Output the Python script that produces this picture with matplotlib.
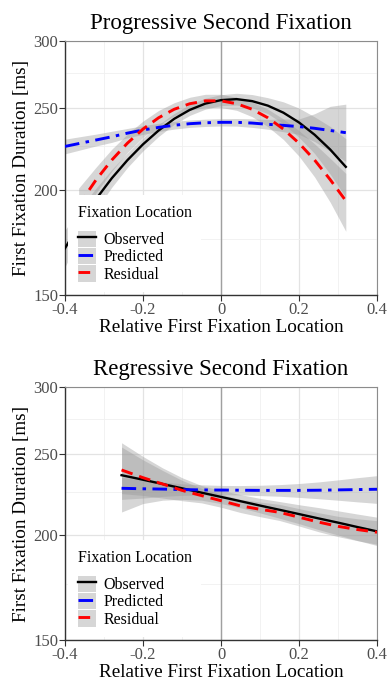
import matplotlib.pyplot as plt
from matplotlib.patches import Patch
from matplotlib.lines import Line2D
from matplotlib.legend_handler import HandlerTuple
from matplotlib.ticker import FixedLocator, NullFormatter

plt.rcParams['font.family'] = ['Liberation Serif', 'DejaVu Serif']
plt.rcParams['axes.unicode_minus'] = False

# Progressive second fixation (fitted curves + confidence bands, ms)
prog_x = [-0.40, -0.36, -0.32, -0.28, -0.24, -0.20, -0.16, -0.12, -0.08, -0.04,
          0.00, 0.04, 0.08, 0.12, 0.16, 0.20, 0.24, 0.28, 0.32]
prog_obs = [170.4, 183.0, 195.0, 206.3, 216.7, 226.3, 235.0, 242.6, 248.6, 252.9,
            255.3, 256.0, 254.6, 251.5, 246.7, 240.2, 232.3, 223.1, 212.8]
prog_obs_lo = [162.0, 175.8, 189.2, 201.3, 212.4, 222.3, 231.2, 239.0, 244.9, 249.1,
               251.5, 251.9, 250.0, 246.0, 239.3, 230.6, 220.7, 208.6, 195.8]
prog_obs_hi = [179.0, 190.3, 200.9, 211.3, 221.0, 230.3, 238.8, 246.2, 252.3, 256.7,
               259.1, 260.1, 259.2, 257.0, 254.1, 249.8, 243.9, 237.6, 229.8]
prog_pred = [225.0, 227.0, 229.0, 231.0, 233.3, 235.3, 237.0, 238.4, 239.4, 240.0,
             240.3, 240.3, 239.8, 239.0, 238.3, 237.5, 236.4, 235.0, 233.6]
prog_pred_lo = [220.5, 222.9, 225.3, 227.5, 230.3, 232.5, 234.3, 235.9, 237.0, 237.6,
                237.9, 237.8, 237.0, 235.8, 234.2, 232.5, 228.0, 222.0, 216.0]
prog_pred_hi = [229.5, 231.1, 232.7, 234.5, 236.3, 238.1, 239.7, 240.9, 241.8, 242.4,
                242.7, 242.8, 242.6, 242.2, 242.5, 242.5, 246.0, 251.0, 252.5]
# the residual fit starts a little later on the left
prog_res_x = [-0.365, -0.32, -0.28, -0.24, -0.20, -0.16, -0.12, -0.08, -0.04,
              0.00, 0.04, 0.08, 0.12, 0.16, 0.20, 0.24, 0.28, 0.32]
prog_res = [191.6, 205.5, 216.8, 227.0, 235.9, 243.3, 249.0, 252.8, 254.8,
            254.8, 252.8, 249.0, 243.3, 235.9, 227.0, 216.8, 205.5, 194.0]
prog_res_lo = [182.5, 198.3, 210.3, 221.3, 230.7, 238.4, 244.5, 248.3, 250.2,
               250.2, 248.3, 244.0, 237.5, 229.3, 219.1, 207.0, 193.2, 178.5]
prog_res_hi = [200.8, 212.7, 223.3, 232.7, 241.1, 248.2, 253.5, 257.3, 259.4,
               259.4, 257.3, 254.0, 249.1, 242.5, 234.9, 226.6, 217.8, 209.0]

# Regressive second fixation
reg_x = [-0.255, -0.20, -0.15, -0.10, -0.05, 0.00, 0.05, 0.10, 0.15, 0.20,
         0.25, 0.30, 0.35, 0.40]
reg_obs = [235.6, 232.7, 230.0, 227.3, 224.6, 222.0, 219.4, 216.8, 214.3, 211.8,
           209.3, 206.9, 204.4, 202.0]
reg_obs_lo = [213.0, 218.0, 220.0, 220.5, 220.0, 218.0, 215.5, 212.5, 209.4, 206.3,
              203.0, 200.0, 197.0, 194.3]
reg_obs_hi = [257.5, 248.0, 240.4, 234.0, 229.0, 226.0, 223.4, 221.1, 219.2, 217.3,
              215.6, 213.7, 211.8, 210.0]
reg_pred = [227.3, 227.0, 226.8, 226.5, 226.3, 226.2, 226.1, 226.0, 226.0, 226.0,
            226.1, 226.3, 226.5, 226.7]
reg_pred_lo = [220.5, 221.3, 222.3, 222.9, 223.1, 223.3, 223.2, 222.8, 222.4, 221.7,
               220.9, 220.0, 219.0, 218.1]
reg_pred_hi = [234.1, 232.7, 231.3, 230.1, 229.5, 229.1, 229.0, 229.2, 229.6, 230.3,
               231.3, 232.6, 234.0, 235.3]
reg_res = [239.0, 234.0, 230.0, 226.0, 222.8, 219.7, 216.6, 214.6, 212.8, 210.0,
           207.2, 204.8, 203.0, 201.5]
reg_res_lo = [224.0, 222.9, 221.3, 219.7, 218.4, 215.8, 212.7, 210.3, 208.1, 205.0,
              201.8, 199.1, 196.9, 195.0]
reg_res_hi = [254.5, 245.7, 238.7, 232.3, 227.3, 223.7, 220.5, 218.9, 217.5, 215.0,
              212.6, 210.5, 209.1, 208.0]

labels = ['Observed', 'Predicted', 'Residual']
x_ticks = [-0.4, -0.2, 0, 0.2, 0.4]
x_tick_labels = ['-0.4', '-0.2', '0', '0.2', '0.4']
y_ticks = [150, 200, 250, 300]
y_minor = [175, 225, 275]

colors = ['black', 'blue', 'red']
styles = ['-', (0, (5.0, 2.2, 1.2, 2.2)), (0, (4.0, 2.4))]
widths = [1.7, 2.1, 2.1]
band = '#999999'


def draw_panel(ax, title, series):
    # series: list of (x, y, lo, hi) for Observed, Predicted, Residual
    ax.axvline(0, color='#a0a0a0', lw=1.0, zorder=1.5)
    for x, y, lo, hi in series:
        ax.fill_between(x, lo, hi, color=band, alpha=0.4, lw=0, zorder=2)
    for (x, y, lo, hi), c, ls, lw in zip(series, colors, styles, widths):
        ax.plot(x, y, color=c, linestyle=ls, lw=lw, zorder=3)

    ax.set_yscale('log')
    ax.set_xlim(-0.4, 0.4)
    ax.set_ylim(150, 300)
    ax.set_xticks(x_ticks)
    ax.set_xticklabels(x_tick_labels)
    ax.xaxis.set_minor_locator(FixedLocator([-0.3, -0.1, 0.1, 0.3]))
    ax.yaxis.set_major_locator(FixedLocator(y_ticks))
    ax.yaxis.set_minor_locator(FixedLocator(y_minor))
    ax.set_yticklabels([str(t) for t in y_ticks])
    ax.yaxis.set_minor_formatter(NullFormatter())
    ax.tick_params(which='major', labelsize=12, labelcolor='#4d4d4d',
                   color='#333333', length=4, pad=1)
    ax.tick_params(which='minor', length=0)
    ax.grid(which='major', color='#e3e3e3', lw=0.9)
    ax.grid(which='minor', color='#f0f0f0', lw=0.6)
    ax.set_axisbelow(True)
    for s in ['left', 'bottom']:
        ax.spines[s].set_color('#333333')
        ax.spines[s].set_linewidth(1.0)
    for s in ['top', 'right']:
        ax.spines[s].set_color('#8c8c8c')
        ax.spines[s].set_linewidth(0.8)

    ax.set_title(title, fontsize=16.5, pad=9)
    ax.set_xlabel('Relative First Fixation Location', fontsize=13.8, labelpad=1)
    ax.set_ylabel('First Fixation Duration [ms]', fontsize=13.8, labelpad=2)

    handles = [(Patch(facecolor=band, alpha=0.4, edgecolor='none'),
                Line2D([], [], color=c, linestyle=ls, lw=lw))
               for c, ls, lw in zip(colors, styles, widths)]
    leg = ax.legend(handles, labels, title='Fixation Location',
                    handler_map={tuple: HandlerTuple(ndivide=1, pad=0)},
                    loc='lower left', bbox_to_anchor=(0.01, 0.01),
                    fontsize=11.5, title_fontsize=11.5, alignment='left',
                    handlelength=1.15, handleheight=1.17, labelspacing=0,
                    handletextpad=0.45, borderpad=0.6, borderaxespad=0,
                    frameon=True, fancybox=False, framealpha=1,
                    facecolor='white', edgecolor='none')
    # gap between the legend title and the keys
    leg._legend_box.sep = 7
    leg.set_zorder(5)


fig = plt.figure(figsize=(3.87, 6.83), dpi=100)
ax1 = fig.add_axes([65 / 387, 1 - 295 / 683, 312 / 387, 254 / 683])
ax2 = fig.add_axes([65 / 387, 1 - 640 / 683, 312 / 387, 253 / 683])

draw_panel(ax1, 'Progressive Second Fixation',
           [(prog_x, prog_obs, prog_obs_lo, prog_obs_hi),
            (prog_x, prog_pred, prog_pred_lo, prog_pred_hi),
            (prog_res_x, prog_res, prog_res_lo, prog_res_hi)])
draw_panel(ax2, 'Regressive Second Fixation',
           [(reg_x, reg_obs, reg_obs_lo, reg_obs_hi),
            (reg_x, reg_pred, reg_pred_lo, reg_pred_hi),
            (reg_x, reg_res, reg_res_lo, reg_res_hi)])

fig.savefig('out.png', dpi=100)
